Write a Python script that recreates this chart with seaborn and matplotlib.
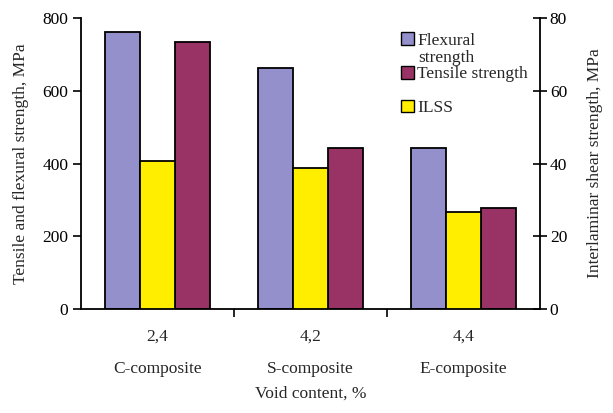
import matplotlib
matplotlib.use("Agg")
import matplotlib.pyplot as plt
import matplotlib.patches as mpatches
import pandas as pd
import seaborn as sns

# Data
composites = ["C-composite", "S-composite", "E-composite"]
void_content = ["2,4", "4,2", "4,4"]
flexural = [763, 663, 442]      # MPa, left axis
tensile = [734, 442, 277]       # MPa, left axis
ilss = [40.7, 38.8, 26.8]       # MPa, right axis

series_order = ["Flexural strength", "ILSS", "Tensile strength"]
colors = {"Flexural strength": "#9490CC",
          "ILSS": "#FFEE00",
          "Tensile strength": "#993366"}

left_df = pd.DataFrame({
    "void": void_content * 2,
    "series": ["Flexural strength"] * 3 + ["Tensile strength"] * 3,
    "value": flexural + tensile,
})
right_df = pd.DataFrame({
    "void": void_content,
    "series": ["ILSS"] * 3,
    "value": ilss,
})

FS = 12.5
sns.set_style("white")
plt.rcParams["font.family"] = ["Liberation Serif", "DejaVu Serif"]
plt.rcParams["font.size"] = FS

fig, ax = plt.subplots(figsize=(6.13, 4.13), dpi=100)
fig.subplots_adjust(left=0.132, right=0.881, top=0.956, bottom=0.252)
ax2 = ax.twinx()

bar_kw = dict(x="void", y="value", hue="series", hue_order=series_order,
              order=void_content, palette=colors, width=0.69, gap=0, dodge=True,
              edgecolor="black", linewidth=1.3, saturation=1, legend=False)
sns.barplot(data=left_df, ax=ax, **bar_kw)
sns.barplot(data=right_df, ax=ax2, **bar_kw)

ax.set_ylim(0, 800)
ax2.set_ylim(0, 80)
ax.set_xlim(-0.5, 2.5)
ax2.set_xlim(-0.5, 2.5)
ax.set_yticks(range(0, 801, 200))
ax2.set_yticks(range(0, 81, 20))

# Spines: only left, bottom and right axis lines
for a in (ax, ax2):
    a.spines["top"].set_visible(False)
    for s in ("left", "right", "bottom"):
        a.spines[s].set_color("black")
        a.spines[s].set_linewidth(1.3)
ax.spines["right"].set_visible(False)
ax2.spines["left"].set_visible(False)
ax2.spines["bottom"].set_visible(False)

ax.tick_params(axis="y", direction="out", length=6, width=1.2, colors="black",
               labelsize=FS, pad=3, left=True)
ax2.tick_params(axis="y", direction="inout", length=10, width=1.2, colors="black",
                labelsize=FS, pad=2, right=True)
ax2.tick_params(axis="x", bottom=False, labelbottom=False)

# Major x ticks at group boundaries, labels at group centres
ax.set_xticks([0.5, 1.5])
ax.set_xticklabels([])
ax.tick_params(axis="x", which="major", direction="out", length=6, width=1.2,
               bottom=True, colors="black")
ax.set_xticks([0, 1, 2], minor=True)
ax.set_xticklabels([f"{v}\n{c}" for v, c in zip(void_content, composites)],
                   minor=True, linespacing=2.4)
ax.tick_params(axis="x", which="minor", length=0, pad=14, labelsize=FS)

ax.set_xlabel("Void content, %", fontsize=FS, labelpad=6)
ax.set_ylabel("Tensile and flexural strength, MPa", fontsize=FS, labelpad=10)
ax2.set_ylabel("Interlaminar shear strength, MPa", fontsize=FS, labelpad=14)

# Legend
handles = [mpatches.Patch(facecolor=colors[s], edgecolor="black", linewidth=1.0)
           for s in ["Flexural strength", "Tensile strength", "ILSS"]]
leg = ax.legend(handles, ["Flexural", "Tensile strength", "ILSS"],
                loc="upper left", bbox_to_anchor=(0.697, 0.952), frameon=False,
                handlelength=0.75, handleheight=0.75, handletextpad=0.2,
                labelspacing=1.0, fontsize=FS, borderaxespad=0, borderpad=0)
ax.text(0.734, 0.862, "strength", transform=ax.transAxes, fontsize=FS,
        va="center", ha="left")

fig.savefig("out.png", dpi=100)
